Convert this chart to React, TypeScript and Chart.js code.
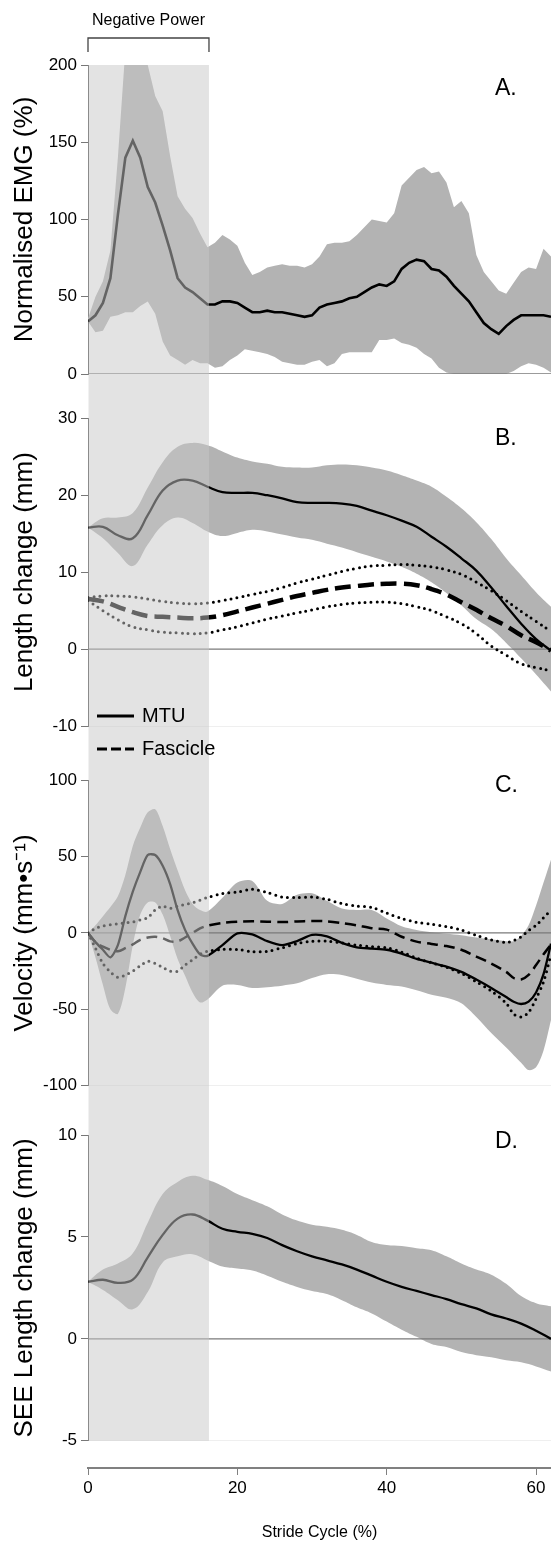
import React, { useEffect, useRef } from 'react';
import { Chart, registerables } from 'chart.js';

Chart.register(...registerables);

const FONT = '"Liberation Sans", Arial, Helvetica, sans-serif';
const X_MIN = 0;
const X_MAX = 62;
const NEG_POWER_END = 16.2;

// ---------- x samples (stride cycle %) ----------
const strideA = [0,1,2,3,4,5,6,7,8,9,10,11,12,13,14,15,16,17,18,19,20,21,22,23,24,25,26,27,28,29,30,31,32,33,34,35,36,37,38,39,40,41,42,43,44,45,46,47,48,49,50,51,52,53,54,55,56,57,58,59,60,61,62];
const strideEven = [0,2,4,6,8,10,12,14,16,18,20,22,24,26,28,30,32,34,36,38,40,42,44,46,48,50,52,54,56,58,60,62];
const strideC = [0,1,2,3,4,5,6,7,8,9,10,11,12,13,14,15,16,18,20,22,24,26,28,30,32,34,36,38,40,42,44,46,48,50,52,54,56,57,58,59,60,61,62];

// ---------- A. Normalised EMG (%) ----------
const emgMean = [34,38,46,62,103,140,151,140,121,111,96,80,62,56,53,49,45,45,47,47,46,43,40,40,41,40,40,39,38,37,38,43,45,46,47,49,50,53,56,58,57,60,68,72,74,73,68,67,63,57,52,47,40,33,29,26,31,35,38,38,38,38,37];
const emgUpper = [36,50,60,80,140,210,240,240,200,180,170,141,115,107,101,91,82,85,90,87,83,72,64,66,69,70,71,70,70,69,71,76,84,85,85,86,90,95,100,99,98,104,122,127,132,134,130,131,124,108,112,104,77,66,60,54,52,59,66,69,68,81,76];
const emgLower = [34,27,28,37,38,40,40,44,47,39,21,12,9,6,9,7,7,4,5,9,12,16,15,14,13,11,8,7,6,6,8,9,5,7,13,14,14,14,14,22,22,23,20,19,17,13,10,4,1,0,0,0,0,0,0,0,0,2,5,7,6,4,1];

// ---------- B. Length change (mm) ----------
const mtuLenMean = [15.8,15.9,14.8,14.4,17.4,20.6,21.9,21.9,21.1,20.4,20.3,20.3,20.0,19.6,19.1,19.0,19.0,18.9,18.6,18.0,17.4,16.7,15.9,14.6,13.3,11.8,10.2,8.0,5.6,3.3,1.3,-0.2];
const mtuLenUpper = [15.8,17.0,17.1,17.7,21.0,24.3,26.3,26.8,26.5,25.7,24.9,24.4,24.1,23.7,23.6,23.6,23.9,24.0,23.9,23.6,23.2,22.6,21.9,21.1,19.8,18.3,16.5,14.3,11.8,9.6,7.4,5.5];
const mtuLenLower = [15.8,14.4,12.5,10.8,13.6,16.1,17.1,16.4,15.3,14.7,15.1,15.5,15.3,14.9,14.5,14.2,13.7,13.2,12.6,12.0,11.4,10.7,9.8,8.7,7.3,5.7,3.9,2.6,0.8,-1.2,-3.3,-5.5];
const fasLenMean = [6.5,6.2,5.5,4.8,4.3,4.2,4.1,4.0,4.1,4.4,4.9,5.4,5.9,6.4,6.9,7.3,7.7,8.0,8.2,8.4,8.5,8.5,8.3,7.8,7.1,6.1,5.1,4.0,3.0,1.8,0.9,-0.2];
const fasLenUpper = [6.7,6.9,6.9,6.8,6.5,6.2,6.0,5.9,6.0,6.3,6.7,7.1,7.5,8.0,8.6,9.1,9.6,10.1,10.5,10.8,10.9,11.0,10.9,10.7,10.3,9.7,8.7,7.6,6.3,4.9,3.6,2.3];
const fasLenLower = [6.3,5.0,3.8,2.9,2.5,2.2,2.1,2.0,2.1,2.5,2.9,3.4,3.9,4.3,4.7,5.1,5.5,5.8,6.0,6.1,6.1,5.9,5.5,5.0,4.2,3.3,2.0,0.4,-0.8,-1.9,-2.4,-2.8];

// ---------- C. Velocity (mm/s) ----------
const velMtuMean = [0,-6,-11,-16,-8,11,27,40,51,51,44,32,15,2,-7,-14,-15,-8,-0.3,-1,-5.4,-8,-5.3,-1.3,-2.2,-6.5,-9.4,-10.2,-11,-13.5,-17,-19.5,-22,-25.5,-30.5,-36,-42,-45,-46.5,-45,-39,-27,-7];
const velMtuUpper = [0,5,11,17,24,38,57,69,79,81,70,55,41,28,19,15,14,23,33,34,21,19,25,26,21,16,15,15,9.5,4.4,2,0.5,-0.5,-1.5,-3,-4.2,-5.5,-5.4,-2,5,18,33,48];
const velMtuLower = [0,-16,-34,-50,-53,-36,-8,12,20,20,12,-2,-17,-28,-39,-45.5,-43.5,-34.5,-34,-36,-35.5,-34.5,-33,-29.5,-27,-27.5,-30,-32.5,-34,-35,-37.5,-40.5,-42.5,-46,-55,-65.5,-75,-80,-85,-89.8,-88,-77,-57];
const velFasMean = [0,-6,-9,-11,-12,-10,-7.5,-4.5,-3,-2.5,-3.5,-5.5,-5.5,-3,0,3,4.8,6.6,7.4,7.6,7.4,7.1,7.5,7.9,7.6,6.5,5.0,3.1,2.2,-2.5,-5.7,-7.2,-8.6,-11,-15.5,-20,-25.5,-29.5,-30.5,-27.5,-21,-14,-7.6];
const velFasUpper = [0,3,4.6,5.3,6,6.6,7.2,8.5,10,15,17.5,16.2,17.5,18.7,19.8,21.5,23.2,25.8,26.8,28.6,26.5,23.5,23.2,23.5,22,19.2,17.6,16.7,13,9.5,7,5.7,4.2,1.9,-1.6,-4.5,-6.3,-5,-2.5,1.5,5,10,15];
const velFasLower = [0,-10,-20,-25.5,-29,-27.5,-25,-21.5,-18.5,-20,-22.5,-25,-25,-21,-17.5,-14,-12,-10.8,-10.8,-12.2,-12,-9.7,-7,-5.4,-5.4,-6.5,-8,-9,-9.7,-12.5,-16.5,-19.5,-22.5,-26.5,-32,-38,-46,-53,-55,-52,-43,-32,-14];

// ---------- D. SEE Length change (mm) ----------
const seeMean = [2.8,2.9,2.75,2.9,4.0,5.1,5.9,6.1,5.8,5.4,5.25,5.15,4.95,4.6,4.3,4.05,3.85,3.65,3.4,3.1,2.8,2.55,2.35,2.15,1.95,1.7,1.5,1.2,1.0,0.75,0.4,0.0];
const seeUpper = [2.8,3.4,3.7,4.2,5.7,7.1,7.7,8.0,7.8,7.5,7.1,6.8,6.5,6.1,5.8,5.6,5.5,5.35,5.1,4.75,4.6,4.55,4.45,4.35,4.05,3.7,3.4,3.15,2.7,2.1,1.75,1.6];
const seeLower = [2.8,2.4,1.9,1.45,2.3,3.75,4.05,4.15,3.85,3.55,3.45,3.35,3.1,2.8,2.55,2.35,2.2,1.9,1.55,1.25,0.85,0.45,0.1,-0.25,-0.4,-0.65,-0.8,-0.9,-1.05,-1.15,-1.35,-1.6];

// ---------- styling ----------
const BAND = '#b3b3b3';
const SHADE = 'rgba(200,200,200,0.5)';
const AXIS = '#777777';

const pts = (xs: number[], ys: number[]) => xs.map((x, i) => ({ x, y: ys[i] }));

function bandSets(xs: number[], upper: number[], lower: number[], tension: number) {
  return [
    { data: pts(xs, upper), borderColor: 'rgba(0,0,0,0)', borderWidth: 0, backgroundColor: BAND, fill: '+1', pointRadius: 0, tension, order: 10 },
    { data: pts(xs, lower), borderColor: 'rgba(0,0,0,0)', borderWidth: 0, backgroundColor: 'rgba(0,0,0,0)', fill: false, pointRadius: 0, tension, order: 10 },
  ];
}

function lineSet(xs: number[], ys: number[], extra: any) {
  return { data: pts(xs, ys), borderColor: '#000', backgroundColor: 'rgba(0,0,0,0)', fill: false, pointRadius: 0, order: 1, ...extra };
}

function zeroSet() {
  return { data: [{ x: X_MIN, y: 0 }, { x: X_MAX, y: 0 }], borderColor: '#7a7a7a', borderWidth: 1.3, pointRadius: 0, fill: false, order: 5 };
}

const DOTTED = { borderWidth: 3, borderDash: [0, 6], borderCapStyle: 'round' };

function panelOptions(min: number, max: number, step: number, title: string, padTop: number, padBottom: number) {
  return {
    responsive: false,
    maintainAspectRatio: false,
    animation: false,
    devicePixelRatio: 1,
    events: [],
    layout: { autoPadding: false, padding: { top: padTop, bottom: padBottom, left: 0, right: 0 } },
    plugins: { legend: { display: false }, tooltip: { enabled: false } },
    scales: {
      x: { type: 'linear', min: X_MIN, max: X_MAX, display: false },
      y: {
        type: 'linear',
        min,
        max,
        afterFit: (s: any) => { s.width = 88; },
        border: { display: true, color: AXIS, width: 1 },
        grid: {
          display: true,
          drawOnChartArea: true,
          drawTicks: true,
          tickLength: 7,
          tickColor: AXIS,
          tickWidth: 1,
          lineWidth: 1,
          color: (c: any) => (c.tick && c.tick.value === min && min !== 0 ? '#efefef' : 'rgba(0,0,0,0)'),
        },
        ticks: { stepSize: step, includeBounds: false, padding: 4, color: '#000', font: { family: FONT, size: 17 } },
        title: { display: true, text: title, color: '#000', font: { family: FONT, size: 26 }, padding: { top: 9, bottom: 0 } },
      },
    },
  };
}

function decor(id: string, letter: string, letterY: number, shadeFromTop: boolean, shadeToBottom: boolean, extra?: (ctx: CanvasRenderingContext2D, x0: number, x1: number) => void) {
  return {
    id,
    afterDraw(chart: any) {
      const { ctx, chartArea, scales } = chart;
      const x0 = scales.x.getPixelForValue(0);
      const x1 = scales.x.getPixelForValue(NEG_POWER_END);
      const top = shadeFromTop ? 0 : chartArea.top;
      const bottom = shadeToBottom ? chart.height : chartArea.bottom;
      ctx.save();
      ctx.fillStyle = SHADE;
      ctx.fillRect(x0 + 0.5, top, x1 - x0 - 0.5, bottom - top);
      ctx.fillStyle = '#000';
      ctx.font = `23px ${FONT}`;
      ctx.textBaseline = 'middle';
      ctx.textAlign = 'left';
      ctx.fillText(letter, 495, letterY);
      if (extra) extra(ctx, x0, x1);
      ctx.restore();
    },
  };
}

export default function App() {
  const aRef = useRef<HTMLCanvasElement>(null);
  const bRef = useRef<HTMLCanvasElement>(null);
  const cRef = useRef<HTMLCanvasElement>(null);
  const dRef = useRef<HTMLCanvasElement>(null);
  const eRef = useRef<HTMLCanvasElement>(null);

  useEffect(() => {
    const charts: any[] = [];

    charts.push(new Chart(aRef.current as HTMLCanvasElement, {
      type: 'line',
      data: {
        datasets: [
          lineSet(strideA, emgMean, { borderWidth: 2.6, tension: 0 }),
          zeroSet(),
          ...bandSets(strideA, emgUpper, emgLower, 0),
        ],
      } as any,
      options: panelOptions(0, 200, 50, 'Normalised EMG (%)', 65, 22) as any,
      plugins: [decor('decorA', 'A.', 89, false, true, (ctx, x0, x1) => {
        ctx.strokeStyle = '#444';
        ctx.lineWidth = 1.3;
        ctx.beginPath();
        ctx.moveTo(x0, 52);
        ctx.lineTo(x0, 38);
        ctx.lineTo(x1, 38);
        ctx.lineTo(x1, 52);
        ctx.stroke();
        ctx.fillStyle = '#000';
        ctx.font = `16px ${FONT}`;
        ctx.textAlign = 'center';
        ctx.fillText('Negative Power', (x0 + x1) / 2, 20.5);
      })],
    }));

    charts.push(new Chart(bRef.current as HTMLCanvasElement, {
      type: 'line',
      data: {
        datasets: [
          lineSet(strideEven, mtuLenMean, { borderWidth: 2.3, tension: 0.4 }),
          lineSet(strideEven, fasLenMean, { borderWidth: 4.5, borderDash: [16, 7], tension: 0.4 }),
          lineSet(strideEven, fasLenUpper, { ...DOTTED, tension: 0.4 }),
          lineSet(strideEven, fasLenLower, { ...DOTTED, tension: 0.4 }),
          zeroSet(),
          ...bandSets(strideEven, mtuLenUpper, mtuLenLower, 0.4),
        ],
      } as any,
      options: panelOptions(-10, 30, 10, 'Length change (mm)', 22.3, 40) as any,
      plugins: [decor('decorB', 'B.', 43, true, true, (ctx) => {
        ctx.strokeStyle = '#000';
        ctx.lineWidth = 3;
        ctx.setLineDash([]);
        ctx.beginPath();
        ctx.moveTo(97, 320);
        ctx.lineTo(134, 320);
        ctx.stroke();
        ctx.setLineDash([10, 4]);
        ctx.beginPath();
        ctx.moveTo(97, 353);
        ctx.lineTo(134, 353);
        ctx.stroke();
        ctx.setLineDash([]);
        ctx.fillStyle = '#000';
        ctx.font = `20px ${FONT}`;
        ctx.textAlign = 'left';
        ctx.textBaseline = 'middle';
        ctx.fillText('MTU', 142, 320);
        ctx.fillText('Fascicle', 142, 353);
      })],
    }));

    charts.push(new Chart(cRef.current as HTMLCanvasElement, {
      type: 'line',
      data: {
        datasets: [
          lineSet(strideC, velMtuMean, { borderWidth: 2.3, tension: 0.25 }),
          lineSet(strideC, velFasMean, { borderWidth: 2.5, borderDash: [11, 6], tension: 0.3 }),
          lineSet(strideC, velFasUpper, { ...DOTTED, tension: 0.3 }),
          lineSet(strideC, velFasLower, { ...DOTTED, tension: 0.3 }),
          zeroSet(),
          ...bandSets(strideC, velMtuUpper, velMtuLower, 0.3),
        ],
      } as any,
      options: panelOptions(-100, 100, 50, 'Velocity (mm\u2022s\u207B\u00B9)', 11.7, 24.3) as any,
      plugins: [decor('decorC', 'C.', 20, true, true)],
    }));

    charts.push(new Chart(dRef.current as HTMLCanvasElement, {
      type: 'line',
      data: {
        datasets: [
          lineSet(strideEven, seeMean, { borderWidth: 2.3, tension: 0.4 }),
          zeroSet(),
          ...bandSets(strideEven, seeUpper, seeLower, 0.4),
        ],
      } as any,
      options: panelOptions(-5, 10, 5, 'SEE Length change (mm)', 25, 11.7) as any,
      plugins: [decor('decorD', 'D.', 31.3, true, false)],
    }));

    charts.push(new Chart(eRef.current as HTMLCanvasElement, {
      type: 'line',
      data: { datasets: [] },
      options: {
        responsive: false,
        maintainAspectRatio: false,
        animation: false,
        devicePixelRatio: 1,
        events: [],
        layout: { autoPadding: false, padding: { top: 0, bottom: 0, left: 88, right: 0 } },
        plugins: { legend: { display: false }, tooltip: { enabled: false } },
        scales: {
          x: {
            type: 'linear',
            min: X_MIN,
            max: X_MAX,
            position: 'bottom',
            afterFit: (s: any) => { s.height = 77; },
            border: { display: true, color: '#808080', width: 2 },
            grid: { display: true, drawOnChartArea: false, drawTicks: true, tickLength: 7, tickColor: '#808080', tickWidth: 1 },
            ticks: { stepSize: 20, includeBounds: false, autoSkip: false, maxRotation: 0, padding: 3, color: '#000', font: { family: FONT, size: 17 } },
            title: { display: true, text: 'Stride Cycle (%)', color: '#000', font: { family: FONT, size: 16 }, padding: { top: 0, bottom: 3 } },
          },
          y: { display: false, min: 0, max: 1 },
        },
      } as any,
    }));

    return () => { charts.forEach((c) => c.destroy()); };
  }, []);

  const cs = (top: number, h: number): React.CSSProperties => ({ position: 'absolute', left: 0, top, width: 551, height: h, display: 'block' });

  return (
    <div style={{ position: 'absolute', left: 0, top: 0, width: 551, height: 1545, background: '#ffffff', overflow: 'hidden' }}>
      <canvas ref={aRef} width={551} height={396} style={cs(0, 396)} />
      <canvas ref={bRef} width={551} height={370} style={cs(396, 370)} />
      <canvas ref={cRef} width={551} height={344} style={cs(766, 344)} />
      <canvas ref={dRef} width={551} height={345} style={cs(1110, 345)} />
      <canvas ref={eRef} width={551} height={90} style={cs(1455, 90)} />
    </div>
  );
}
